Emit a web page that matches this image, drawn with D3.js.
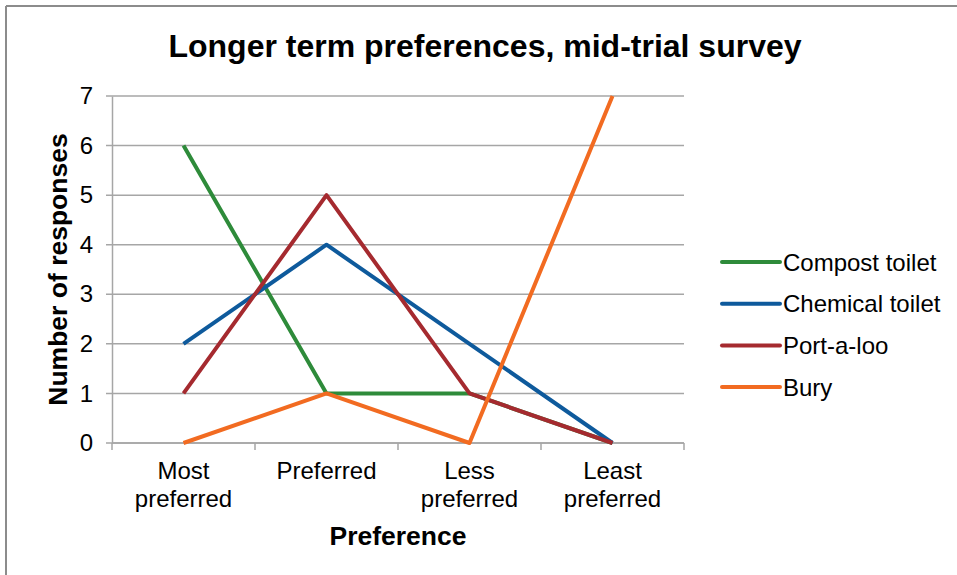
<!DOCTYPE html>
<html>
<head>
<meta charset="utf-8">
<title>Longer term preferences, mid-trial survey</title>
<script src="https://cdn.jsdelivr.net/npm/d3@7"></script>
<style>
  body { margin: 0; background: #fff; }
  text { font-family: "Liberation Sans", Arial, sans-serif; fill: #000; }
</style>
</head>
<body>
<div id="chart"></div>
<script>
var categories = ["Most preferred", "Preferred", "Less preferred", "Least preferred"];
var seriesNames = ["Compost toilet", "Chemical toilet", "Port-a-loo", "Bury"];
var compost = [6, 1, 1, 0];
var chemical = [2, 4, 2, 0];
var portaloo = [1, 5, 1, 0];
var bury = [0, 1, 0, 7];
var yTicks = [0, 1, 2, 3, 4, 5, 6, 7];
var colors = ["#2e8b3a", "#0e5a9c", "#a52a2f", "#f26b21"];

var series = [compost, chemical, portaloo, bury].map(function(v, i) {
  return { name: seriesNames[i], values: v, color: colors[i] };
});

var width = 957, height = 575;
var m = { left: 112, top: 96, right: 684, bottom: 443 };

var svg = d3.select("#chart").append("svg")
  .attr("width", width).attr("height", height);

// outer frame (only top and left edges show)
svg.append("line").attr("x1", 6).attr("x2", width).attr("y1", 6).attr("y2", 6)
  .attr("stroke", "#8c8c8c").attr("stroke-width", 2);
svg.append("line").attr("x1", 6).attr("x2", 6).attr("y1", 6).attr("y2", height)
  .attr("stroke", "#8c8c8c").attr("stroke-width", 2);

var x = d3.scaleBand().domain(categories).range([m.left, m.right]);
var y = d3.scaleLinear().domain([0, 7]).range([m.bottom, m.top]);

// gridlines
svg.append("g").selectAll("line").data(yTicks).enter().append("line")
  .attr("x1", m.left - 6).attr("x2", m.right)
  .attr("y1", function(d) { return y(d); }).attr("y2", function(d) { return y(d); })
  .attr("stroke", "#a6a6a6").attr("stroke-width", 1.5);

// y axis
var yAxis = svg.append("g").attr("transform", "translate(" + m.left + ",0)")
  .call(d3.axisLeft(y).tickValues(yTicks).tickSize(0).tickPadding(19).tickFormat(d3.format("d")));
yAxis.select(".domain").attr("stroke", "#a6a6a6").attr("stroke-width", 1.5);
yAxis.selectAll("text").style("font-size", "24px").style("font-family", "Liberation Sans, Arial, sans-serif").attr("fill", "#000");

// x axis, ticks on band edges
var xAxisG = svg.append("g").attr("transform", "translate(0," + m.bottom + ")");
xAxisG.append("line").attr("x1", m.left).attr("x2", m.right)
  .attr("stroke", "#a6a6a6").attr("stroke-width", 1.5);
var edges = categories.map(function(c) { return x(c); }).concat([m.right]);
xAxisG.selectAll("line.tk").data(edges).enter().append("line").attr("class", "tk")
  .attr("x1", function(d) { return d; }).attr("x2", function(d) { return d; })
  .attr("y1", 0).attr("y2", 7).attr("stroke", "#a6a6a6").attr("stroke-width", 1.5);

var labels = xAxisG.selectAll("text.cat").data(categories).enter().append("text")
  .attr("class", "cat")
  .attr("text-anchor", "middle")
  .style("font-size", "24px");
labels.each(function(d) {
  var words = d.split(" ");
  var t = d3.select(this);
  var cx = x(d) + x.bandwidth() / 2;
  words.forEach(function(w, i) {
    t.append("tspan").attr("x", cx).attr("y", 36 + i * 28).text(w);
  });
});

// axis titles
svg.append("text").attr("x", (m.left + m.right) / 2).attr("y", 545)
  .attr("text-anchor", "middle").style("font-size", "26.5px").style("font-weight", "bold")
  .text("Preference");
svg.append("text")
  .attr("transform", "translate(67," + (m.top + m.bottom) / 2 + ") rotate(-90)")
  .attr("text-anchor", "middle").style("font-size", "26.5px").style("font-weight", "bold")
  .text("Number of responses");

// title
svg.append("text").attr("x", 485).attr("y", 57)
  .attr("text-anchor", "middle").style("font-size", "32px").style("font-weight", "bold")
  .text("Longer term preferences, mid-trial survey");

// series lines
var line = d3.line()
  .x(function(d, i) { return x(categories[i]) + x.bandwidth() / 2; })
  .y(function(d) { return y(d); });

svg.append("g").selectAll("path").data(series).enter().append("path")
  .attr("d", function(d) { return line(d.values); })
  .attr("fill", "none")
  .attr("stroke", function(d) { return d.color; })
  .attr("stroke-width", 4)
  .attr("stroke-linejoin", "round");

// legend
var lg = svg.append("g").selectAll("g").data(series).enter().append("g")
  .attr("transform", function(d, i) { return "translate(722," + (262 + i * 41.7) + ")"; });
lg.append("line").attr("x1", 0).attr("x2", 58).attr("y1", 0).attr("y2", 0)
  .attr("stroke", function(d) { return d.color; }).attr("stroke-width", 4)
  .attr("stroke-linecap", "round");
lg.append("text").attr("x", 61).attr("y", 8.5).style("font-size", "24px")
  .text(function(d) { return d.name; });
</script>
</body>
</html>
